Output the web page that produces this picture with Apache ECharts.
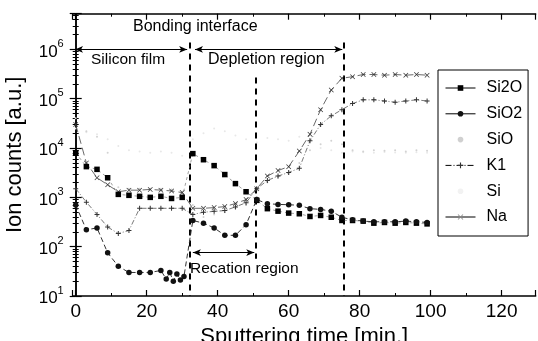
<!DOCTYPE html>
<html><head><meta charset="utf-8">
<script src="https://cdn.jsdelivr.net/npm/echarts@6/dist/echarts.min.js"></script>
<style>html,body{margin:0;padding:0;background:#fff}#c{width:538px;height:341px}</style>
</head><body><div id="c"></div>
<script>
// ---- data ----
const seriesNames = ['Si2O', 'SiO2', 'SiO', 'K1', 'Si', 'Na'];
const times = [0,3,6,9,12,15,18,21,24,27,30,33,36,39,42,45,48,51,54,57,60,63,66,69,72,75,78,81,84,87,90,93,96,99];
const si2o = [8000,4200,3700,2500,1150,1100,1050,1000,1050,950,1000,
              7700,5800,4400,2900,1900,1300,870,
              590,525,480,465,410,430,395,340,
              340,330,300,310,300,310,300,290];
const sio2Times = [0,3,6,9,12,15,18,21,24,25.5,26.5,27.5,28.5,29.5,30.5,33,36,39,42,45,48,51,54,57,60,63,66,69,72,75,78,81,84,87,90,93,96,99];
const sio2 = [700,220,240,75,40,30,30,30,33,22,30,20,28,21,25,
              340,300,240,170,170,280,900,
              745,720,710,690,590,570,525,395,
              350,330,320,320,320,330,320,310];
const sio = [40000,22000,17000,8000,1600,1500,1500,1500,1500,1450,1300,
             700,400,450,500,600,700,1000,
             2000,2500,3000,5000,9000,12000,14000,12000,
             9000,8500,9000,8800,9000,8500,9000,8800];
const k1 = [1500,800,450,250,185,213,600,600,600,600,600,
            450,500,520,540,640,780,1500,
            2200,2700,3200,3900,14000,30000,45000,60000,
            80000,95000,95000,90000,85000,90000,95000,90000];
const si = [25000,21000,19000,15000,11000,9000,8500,8000,8500,8000,7000,
            15000,20000,25000,22000,18000,15000,13000,
            16000,15000,14000,17000,15000,10000,9000,8000,
            8500,8200,8000,8300,8100,8000,8200,8000];
const na = [30000,5000,2500,1800,1300,1400,1400,1450,1400,1350,1250,
            600,600,620,650,750,900,1500,
            2700,3500,4200,8700,19000,60000,150000,260000,
            280000,310000,310000,300000,310000,300000,310000,300000];
const yTickExponents = [1,2,3,4,5,6];

// ---- chart ----
const FONT = '"Liberation Sans", Arial, sans-serif';
const zip = (xs, ys) => xs.map((x, i) => [x, ys[i]]);
const PLUS = 'path://M4,0h2v4h4v2h-4v4h-2v-4h-4v-2h4z';
const CROSS = 'path://M1,0L5,4L9,0L10,1L6,5L10,9L9,10L5,6L1,10L0,9L4,5L0,1Z';

const xMin = -0.85, xMax = 129.6, yMin = 10, yMax = 5.3e6;

const axisCommon = {
  axisLine: {show: true, lineStyle: {color: '#000', width: 1.5}},
  axisTick: {show: true, inside: true, length: 6, lineStyle: {color: '#000', width: 1.2}},
  minorTick: {show: true, length: 3, lineStyle: {color: '#000', width: 1}},
  splitLine: {show: false}
};

const chart = echarts.init(document.getElementById('c'), null, {renderer: 'canvas'});
chart.setOption({
  animation: false,
  backgroundColor: '#fff',
  grid: {left: 72.7, right: 2.3, top: 13.7, bottom: 45, containLabel: false, outerBoundsMode: 'none'},
  xAxis: [
    Object.assign({}, axisCommon, {
      type: 'value', min: xMin, max: xMax, splitNumber: 6, position: 'bottom',
      minorTick: Object.assign({}, axisCommon.minorTick, {splitNumber: 2}),
      axisLabel: {show: true, fontSize: 19, color: '#000', fontFamily: FONT, margin: 6,
                  showMinLabel: false, showMaxLabel: false},
      name: 'Sputtering time [min.]', nameLocation: 'middle', nameGap: 29,
      nameTextStyle: {fontSize: 22, color: '#000', fontFamily: FONT, verticalAlign: 'top'}
    }),
    Object.assign({}, axisCommon, {
      type: 'value', min: xMin, max: xMax, splitNumber: 6, position: 'top',
      minorTick: Object.assign({}, axisCommon.minorTick, {splitNumber: 2}),
      axisLabel: {show: false}
    })
  ],
  yAxis: [
    Object.assign({}, axisCommon, {
      type: 'log', logBase: 10, min: yMin, max: yMax, position: 'left',
      minorTick: Object.assign({}, axisCommon.minorTick, {splitNumber: 9}),
      axisLabel: {
        show: true, margin: 9, showMaxLabel: false,
        formatter: v => {
          const e = Math.round(Math.log10(v));
          return yTickExponents.indexOf(e) >= 0 ? '{b|10}{s|' + e + '}' : '';
        },
        rich: {
          b: {fontSize: 17, fontFamily: FONT, color: '#000', lineHeight: 22, verticalAlign: 'bottom'},
          s: {fontSize: 11, fontFamily: FONT, color: '#000', verticalAlign: 'top'}
        }
      },
      name: 'Ion counts [a.u.]', nameLocation: 'middle', nameGap: 47,
      nameTextStyle: {fontSize: 22, color: '#000', fontFamily: FONT}
    }),
    Object.assign({}, axisCommon, {
      type: 'log', logBase: 10, min: yMin, max: yMax, position: 'right',
      minorTick: Object.assign({}, axisCommon.minorTick, {splitNumber: 9}),
      axisLabel: {show: false}
    })
  ],
  legend: {
    orient: 'vertical', left: 438, top: 70,
    padding: [10, 6, 11, 7], itemGap: 9.8, itemWidth: 30, itemHeight: 7,
    borderColor: '#000', borderWidth: 1, backgroundColor: '#fff',
    textStyle: {fontSize: 16, lineHeight: 16, color: '#000', fontFamily: FONT, padding: [0, 0, 0, 6]},
    data: [
      {name: 'Si2O', lineStyle: {color: '#000', width: 1, type: 'solid'}},
      {name: 'SiO2', lineStyle: {color: '#000', width: 1, type: 'solid'}},
      {name: 'SiO', itemStyle: {color: '#d0d0d0'}},
      {name: 'K1', lineStyle: {color: '#000', width: 1, type: [6, 2, 1, 2]}},
      {name: 'Si', itemStyle: {color: '#f2f2f2'}},
      {name: 'Na', lineStyle: {color: '#000', width: 1, type: 'solid'}, itemStyle: {color: '#888'}}
    ]
  },
  series: [
    {name: 'Si2O', type: 'line', data: zip(times, si2o), symbol: 'rect', symbolSize: 5.5,
     itemStyle: {color: '#000'}, lineStyle: {color: '#777', width: 0.7, type: [3, 3]}, z: 6},
    {name: 'SiO2', type: 'line', data: zip(sio2Times, sio2), symbol: 'circle', symbolSize: 5.5,
     itemStyle: {color: '#111'}, lineStyle: {color: '#333', width: 1, type: [5, 3]}, z: 6},
    {name: 'SiO', type: 'line', data: zip(times, sio), symbol: 'circle', symbolSize: 2,
     itemStyle: {color: '#d2d2d2'}, lineStyle: {width: 0}, z: 3},
    {name: 'K1', type: 'line', data: zip(times, k1), symbol: PLUS, symbolSize: 5,
     itemStyle: {color: '#333'}, lineStyle: {color: '#555', width: 0.8, type: [5, 2, 1, 2]}, z: 5},
    {name: 'Si', type: 'line', data: zip(times, si), symbol: 'circle', symbolSize: 2,
     itemStyle: {color: '#e8e8e8'}, lineStyle: {width: 0}, z: 2},
    {name: 'Na', type: 'line', data: zip(times, na), symbol: CROSS, symbolSize: 5,
     itemStyle: {color: '#333'}, lineStyle: {color: '#444', width: 0.8, type: [8, 4]}, z: 5},
    {name: 'dashed', type: 'line', data: [], silent: true,
     markLine: {silent: true, symbol: ['none', 'none'], label: {show: false},
       lineStyle: {color: '#000', width: 2, type: [6, 5]},
       data: [
         [{coord: [32.0, 1.38e6]}, {coord: [32.0, 10]}],
         [{coord: [50.8, 2.7e5]}, {coord: [50.8, 57]}],
         [{coord: [75.4, 1.38e6]}, {coord: [75.4, 10]}]
       ]}},
    {name: 'arrows', type: 'line', data: [], silent: true,
     markLine: {silent: true, symbol: ['arrow', 'arrow'], symbolSize: [5, 8], label: {show: false},
       lineStyle: {color: '#000', width: 1, type: 'solid'},
       data: [
         [{coord: [-0.2, 1e6]}, {coord: [31.4, 1e6]}],
         [{coord: [33.6, 1e6]}, {coord: [75.1, 1e6]}],
         [{coord: [33.0, 76]}, {coord: [50.3, 76]}]
       ]}}
  ],
  graphic: [
    {type: 'text', left: 133, top: 19, style: {text: 'Bonding interface', fontSize: 16, fill: '#000', font: '16px ' + FONT}},
    {type: 'text', left: 91, top: 52, style: {text: 'Silicon film', fontSize: 15.5, fill: '#000', font: '15.5px ' + FONT}},
    {type: 'text', left: 208, top: 52, style: {text: 'Depletion region', fontSize: 16, fill: '#000', font: '16px ' + FONT}},
    {type: 'text', left: 190, top: 261, style: {text: 'Recation region', fontSize: 15.5, fill: '#000', font: '15.5px ' + FONT}}
  ]
});
</script>
</body></html>
